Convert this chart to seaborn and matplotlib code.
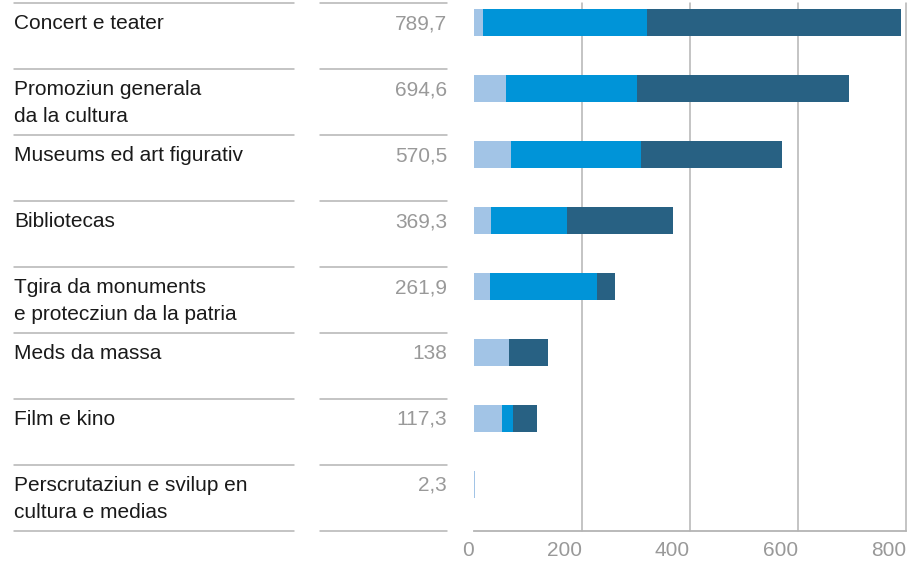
import matplotlib
matplotlib.use("Agg")
import matplotlib.pyplot as plt
import matplotlib.transforms as mtransforms
import seaborn as sns
import pandas as pd
import numpy as np

categories = ["Concert e teater", "Promoziun generala\nda la cultura", "Museums ed art figurativ",
              "Bibliotecas", "Tgira da monuments\ne protecziun da la patria", "Meds da massa",
              "Film e kino", "Perscrutaziun e svilup en\ncultura e medias"]
total_labels = ["789,7", "694,6", "570,5", "369,3", "261,9", "138", "117,3", "2,3"]
light = [17, 60, 69, 32, 30, 65, 52, 2.3]
medium = [303, 242, 240, 140, 198, 1, 20, 0]
dark = [469.7, 392.6, 261.5, 197.3, 33.9, 72, 45.3, 0]
x_ticks = [0, 200, 400, 600, 800]

C_LIGHT = "#a2c4e6"
C_MED = "#0094d8"
C_DARK = "#286183"
GRID = "#b4b4b4"
GRAYTXT = "#999999"
FS = 15

sns.set_theme(style="white")
plt.rcParams["font.family"] = ["Liberation Sans", "DejaVu Sans"]

W, H = 910, 561
fig = plt.figure(figsize=(W / 100, H / 100), dpi=100)
x0, x1 = 473.7, 906.3
ytop, ybot = 3, 531
ax = fig.add_axes([x0 / W, (H - ybot) / H, (x1 - x0) / W, (ybot - ytop) / H])

df = pd.DataFrame({
    "category": categories,
    "c1": light,
    "c2": np.array(light) + np.array(medium),
    "c3": np.array(light) + np.array(medium) + np.array(dark),
})

for col, c in [("c3", C_DARK), ("c2", C_MED), ("c1", C_LIGHT)]:
    sns.barplot(data=df, x=col, y="category", orient="h", color=c, saturation=1,
                width=0.41, linewidth=0, edgecolor="none", ax=ax, zorder=3)

off = 19.5 / 66
n = len(categories)
ax.set_xlim(0, 800)
ax.set_ylim(n - off, -off)
ax.set_ylabel("")
ax.set_xlabel("")
ax.set_yticks([])
for s in ["top", "right", "left"]:
    ax.spines[s].set_visible(False)
ax.spines["bottom"].set_color(GRID)
ax.spines["bottom"].set_linewidth(1.3)

ax.set_xticks(x_ticks)
ax.set_xticklabels([str(t) for t in x_ticks], ha="right", color=GRAYTXT, fontsize=FS)
ax.tick_params(axis="x", direction="out", length=6.5, width=1.1, color=GRID, pad=1)
for t in x_ticks[1:]:
    ax.plot([t, t], [n - off, -off], color=GRID, lw=1.1, zorder=1, clip_on=False)

tr = mtransforms.blended_transform_factory(fig.transFigure, ax.transData)
px = lambda v: v / W

for i in range(n + 1):
    yline = i - off
    ax.plot([px(14), px(294)], [yline, yline], transform=tr, color=GRID, lw=1.1, clip_on=False)
    ax.plot([px(320), px(447)], [yline, yline], transform=tr, color=GRID, lw=1.1, clip_on=False)

base = 26 / 66
lsp = 27.4 / 66
for i, (cat, tl) in enumerate(zip(categories, total_labels)):
    yb = i - off + base
    for j, line in enumerate(cat.split("\n")):
        ax.text(px(14), yb + j * lsp, line, transform=tr, ha="left", va="baseline",
                fontsize=FS, color="#1a1a1a", clip_on=False)
    ax.text(px(447), yb, tl, transform=tr, ha="right", va="baseline",
            fontsize=FS, color=GRAYTXT, clip_on=False)

fig.savefig("out.png", dpi=100)
